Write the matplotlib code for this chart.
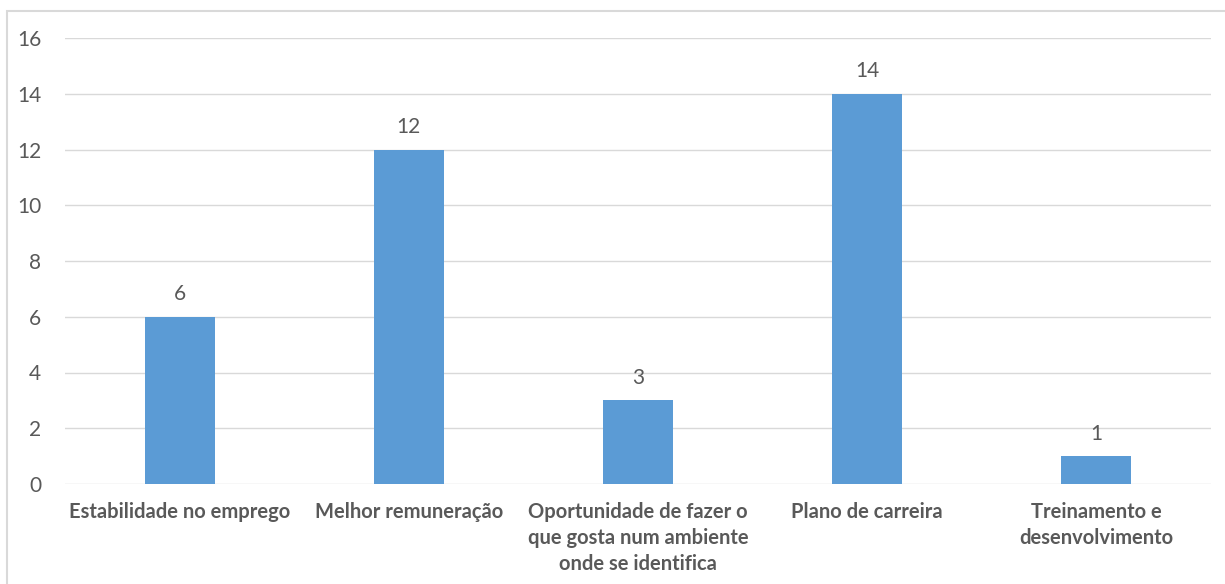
import matplotlib
matplotlib.use("Agg")
import matplotlib.pyplot as plt
from matplotlib.patches import Rectangle

categories = ["Estabilidade no emprego", "Melhor remuneração",
              "Oportunidade de fazer o\nque gosta num ambiente\nonde se identifica",
              "Plano de carreira", "Treinamento e\ndesenvolvimento"]
values = [6, 12, 3, 14, 1]
yticks = [0, 2, 4, 6, 8, 10, 12, 14, 16]

plt.rcParams['font.family'] = ['Lato', 'DejaVu Sans']
text_color = '#595959'
bar_color = '#5B9BD5'
grid_color = '#D9D9D9'

fig = plt.figure(figsize=(12.25, 5.84), dpi=100)
fig.patches.append(Rectangle((6.5/1225, -0.2), 1.0, 1.2 - 11/584,
                             transform=fig.transFigure, fill=False,
                             edgecolor=grid_color, linewidth=1.5))
ax = fig.add_axes([65/1225, 1 - 484/584, 1146/1225, (484-38)/584])

x = list(range(len(categories)))
bars = ax.bar(x, values, width=0.306, color=bar_color, zorder=3)
ax.set_xlim(-0.5, len(categories) - 0.5)
ax.set_ylim(0, 16)
ax.set_yticks(yticks)
ax.set_yticklabels([str(t) for t in yticks], fontsize=15, color=text_color)
ax.set_xticks(x)
ax.set_xticklabels(categories, fontsize=14.5, fontweight='bold', color=text_color,
                   linespacing=1.38, va='top')
ax.tick_params(axis='both', length=0)
ax.tick_params(axis='y', pad=17)
ax.tick_params(axis='x', pad=13)
ax.grid(axis='y', color=grid_color, linewidth=1, zorder=0)
for s in ax.spines.values():
    s.set_visible(False)

for b, v in zip(bars, values):
    ax.annotate(str(v), (b.get_x() + b.get_width()/2, v), xytext=(0, 9),
                textcoords='offset points', ha='center', va='bottom',
                fontsize=15, color=text_color)

fig.savefig("out.png", dpi=100)
